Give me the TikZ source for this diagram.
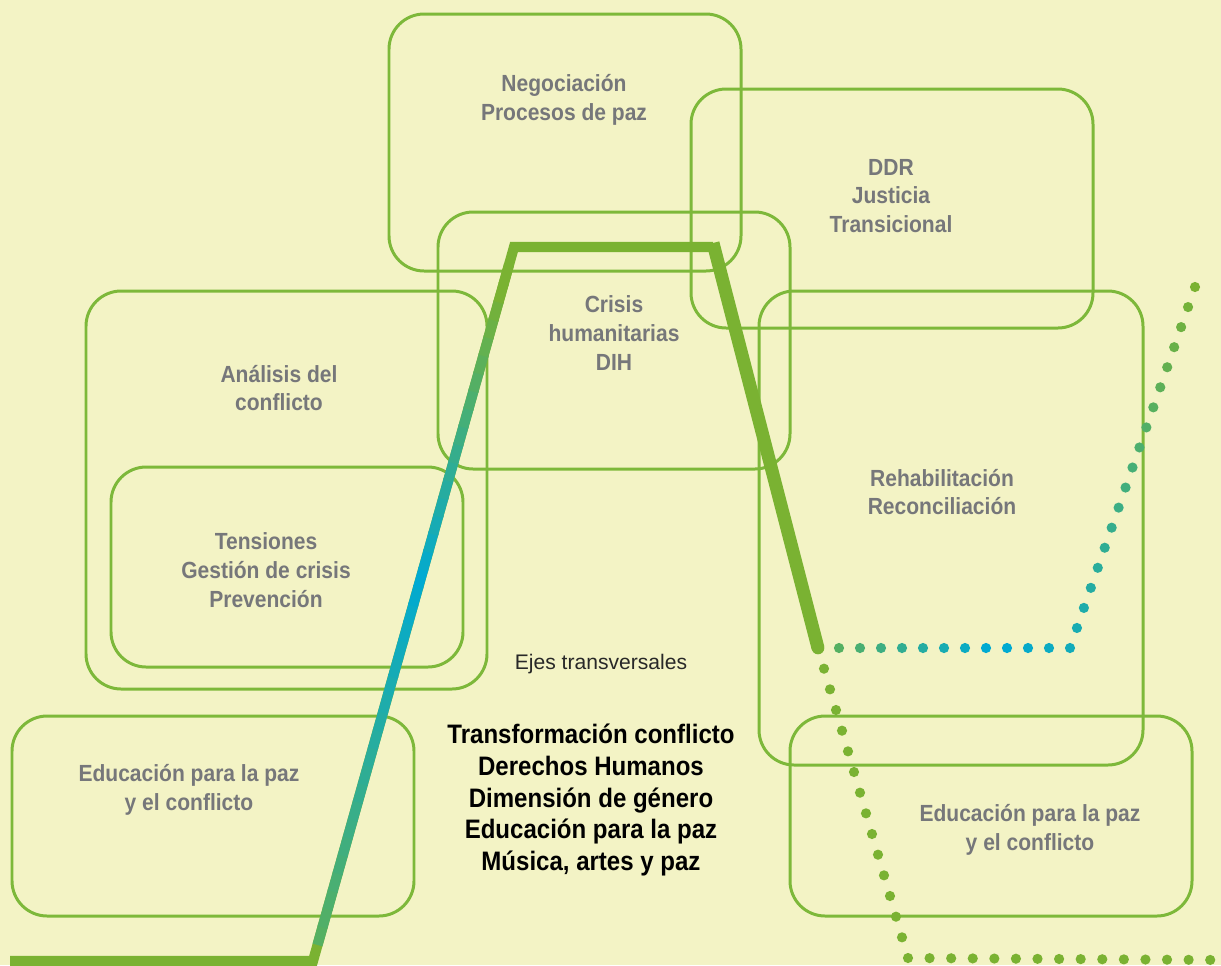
\documentclass[tikz,border=0pt]{standalone}
\usepackage{fontspec}
\setmainfont{Liberation Sans}
\newfontfamily\condfont{Liberation Sans}[FakeStretch=0.9]
\usetikzlibrary{calc}
\definecolor{bgpaper}{RGB}{243,243,197}
\definecolor{boxgreen}{RGB}{125,184,58}
\definecolor{pathgreen}{RGB}{122,178,50}
\definecolor{pathcyan}{RGB}{0,170,210}
\definecolor{labelgray}{RGB}{118,119,122}
\definecolor{axisgray}{RGB}{40,40,40}

\begin{document}
\begin{tikzpicture}[x=0.02cm,y=-0.02cm,
    area/.style={draw=boxgreen,line width=1.7pt,rounded corners=20pt},
    area label/.style={font=\condfont\bfseries\fontsize{13.3}{16.4}\selectfont,text=labelgray,align=center},
    axis label/.style={font=\condfont\bfseries\fontsize{15.2}{18.1}\selectfont,align=center},
    stage/.style={line width=5.8pt,draw=pathgreen,line join=miter},
    dot/.style={radius=2.9pt}]
    % Page
    \fill[bgpaper] (0,0) rectangle (1221,965);
    \useasboundingbox (0,0) rectangle (1221,965);

    % Areas
    \draw[area] (389,14) rectangle (741,271);
    \draw[area] (691,89) rectangle (1093,328);
    \draw[area] (438,212) rectangle (790,469);
    \draw[area] (86,291) rectangle (487,689);
    \draw[area] (111,467) rectangle (463,667);
    \draw[area] (759,291) rectangle (1143,765);
    \draw[area] (12,716) rectangle (414,916);
    \draw[area] (790,716) rectangle (1192,916);

    % Conflict curve
    \coordinate (start) at (10,961);
    \coordinate (foot) at (313,961);
    \coordinate (rise) at (514,247);
    \coordinate (peak) at (713,247);
    \coordinate (fall) at (818,648);
    \coordinate (turn) at (1070,648);
    \coordinate (exit) at (1195,287);
    \coordinate (dip) at (908,958);
    \coordinate (out) at (1221,960);

    \draw[stage,line width=7.4pt,line cap=butt] ($(peak)+(0,-4)$) -- (fall);
    \draw[stage] (start) -- (foot) -- (rise) -- (peak);
    \foreach \i in {1,...,38} {
        \pgfmathsetmacro\ta{(\i-0.1)/40}
        \pgfmathsetmacro\tb{(\i+1)/40}
        \pgfmathsetmacro\mix{\tb<0.55 ? 100-(0.55-\tb)*140 : max(0,100-(\tb-0.55)*250)}
        \draw[stage,draw=pathcyan!\mix!pathgreen,line cap=butt]
            ($(foot)!\ta!(rise)$) -- ($(foot)!\tb!(rise)$);
    }
    \fill[pathgreen] (fall) circle[radius=3.6pt];

    % Dotted ways out
    \foreach \i in {1,...,12} {
        \pgfmathsetmacro\mix{\i<9 ? 20+\i*10 : 100-(\i-9)*5}
        \fill[pathcyan!\mix!pathgreen] ($(fall)!\i/12!(turn)$) circle[dot];
    }
    \foreach \i in {1,...,18} {
        \pgfmathsetmacro\mix{85*(1-\i/18)}
        \fill[pathcyan!\mix!pathgreen] ($(turn)!\i/18!(exit)$) circle[dot];
    }
    \foreach \i in {1,...,15}
        \fill[pathgreen] ($(fall)!\i/15!(dip)$) circle[dot];
    \foreach \i in {1,...,14}
        \fill[pathgreen] ($(dip)!\i/14.5!(out)$) circle[dot];

    % Labels
    \node[area label] (negociacion) at (564,100) {Negociación\\Procesos de paz};
    \node[area label] (ddr) at (891,196) {DDR\\Justicia\\Transicional};
    \node[area label] (crisis) at (614,333) {Crisis\\humanitarias\\DIH};
    \node[area label] (analisis) at (279,388) {Análisis del\\conflicto};
    \node[area label] (tensiones) at (266,570) {Tensiones\\Gestión de crisis\\Prevención};
    \node[area label] (rehabilitacion) at (942,492) {Rehabilitación\\Reconciliación};
    \node[area label] (educacion izq) at (189,790) {Educación para la paz\\y el conflicto};
    \node[area label] (educacion der) at (1030,830) {Educación para la paz\\y el conflicto};

    \node[font=\fontsize{12}{14}\selectfont,text=axisgray] (ejes) at (601,664) {Ejes transversales};
    \node[axis label] (transversales) at (591,800) {Transformación conflicto\\Derechos Humanos\\Dimensión de género\\Educación para la paz\\Música, artes y paz};
\end{tikzpicture}
\end{document}
